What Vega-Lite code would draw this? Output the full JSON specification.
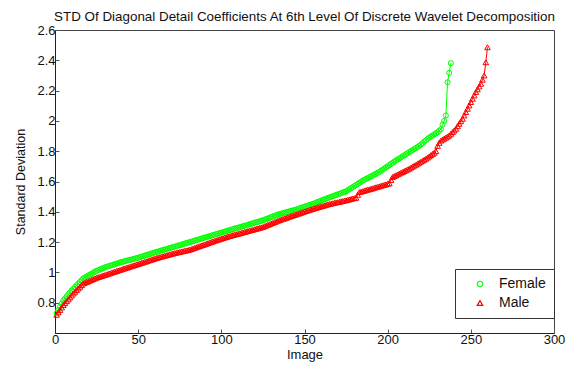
{
  "$schema": "https://vega.github.io/schema/vega-lite/v6.json",
  "width": 499,
  "height": 303,
  "autosize": {"type": "none"},
  "padding": {"left": 55, "top": 30, "right": 20, "bottom": 35},
  "background": "white",
  "title": {"text": "STD Of Diagonal Detail Coefficients At 6th Level Of Discrete Wavelet Decomposition", "font": "Liberation Sans", "fontSize": 13.4, "fontWeight": "normal", "color": "#111", "anchor": "middle", "offset": 1},
  "config": {
    "view": {"stroke": "#444", "strokeWidth": 1},
    "axis": {"labelFont": "Liberation Sans", "titleFont": "Liberation Sans", "labelColor": "#111", "titleColor": "#111", "labelFontSize": 13, "titleFontSize": 13, "titleFontWeight": "normal", "grid": false, "domainColor": "#222", "tickColor": "#555", "tickSize": -4, "labelPadding": 4},
    "legend": {"labelFont": "Liberation Sans", "labelFontSize": 14, "labelColor": "#111"}
  },
  "data": {"values": [
{"i":1,"Female":0.730,"Male":0.720},{"i":2,"Female":0.752,"Male":0.736},{"i":3,"Female":0.773,"Male":0.752},{"i":4,"Female":0.794,"Male":0.768},{"i":5,"Female":0.815,"Male":0.784},
{"i":6,"Female":0.828,"Male":0.797},{"i":7,"Female":0.841,"Male":0.810},{"i":8,"Female":0.854,"Male":0.822},{"i":9,"Female":0.867,"Male":0.835},{"i":10,"Female":0.880,"Male":0.848},
{"i":11,"Female":0.891,"Male":0.861},{"i":12,"Female":0.903,"Male":0.872},{"i":13,"Female":0.914,"Male":0.883},{"i":14,"Female":0.926,"Male":0.894},{"i":15,"Female":0.937,"Male":0.905},
{"i":16,"Female":0.949,"Male":0.916},{"i":17,"Female":0.960,"Male":0.927},{"i":18,"Female":0.966,"Male":0.932},{"i":19,"Female":0.973,"Male":0.937},{"i":20,"Female":0.979,"Male":0.941},
{"i":21,"Female":0.985,"Male":0.946},{"i":22,"Female":0.991,"Male":0.951},{"i":23,"Female":0.998,"Male":0.956},{"i":24,"Female":1.004,"Male":0.960},{"i":25,"Female":1.010,"Male":0.965},
{"i":26,"Female":1.015,"Male":0.969},{"i":27,"Female":1.019,"Male":0.972},{"i":28,"Female":1.024,"Male":0.976},{"i":29,"Female":1.028,"Male":0.980},{"i":30,"Female":1.033,"Male":0.983},
{"i":31,"Female":1.037,"Male":0.987},{"i":32,"Female":1.040,"Male":0.991},{"i":33,"Female":1.044,"Male":0.994},{"i":34,"Female":1.047,"Male":0.998},{"i":35,"Female":1.051,"Male":1.002},
{"i":36,"Female":1.054,"Male":1.005},{"i":37,"Female":1.058,"Male":1.009},{"i":38,"Female":1.061,"Male":1.013},{"i":39,"Female":1.065,"Male":1.016},{"i":40,"Female":1.068,"Male":1.020},
{"i":41,"Female":1.071,"Male":1.024},{"i":42,"Female":1.074,"Male":1.027},{"i":43,"Female":1.077,"Male":1.031},{"i":44,"Female":1.080,"Male":1.034},{"i":45,"Female":1.083,"Male":1.038},
{"i":46,"Female":1.085,"Male":1.041},{"i":47,"Female":1.088,"Male":1.045},{"i":48,"Female":1.091,"Male":1.048},{"i":49,"Female":1.094,"Male":1.052},{"i":50,"Female":1.097,"Male":1.055},
{"i":51,"Female":1.100,"Male":1.059},{"i":52,"Female":1.104,"Male":1.063},{"i":53,"Female":1.107,"Male":1.066},{"i":54,"Female":1.111,"Male":1.070},{"i":55,"Female":1.114,"Male":1.073},
{"i":56,"Female":1.118,"Male":1.077},{"i":57,"Female":1.121,"Male":1.081},{"i":58,"Female":1.125,"Male":1.084},{"i":59,"Female":1.128,"Male":1.088},{"i":60,"Female":1.132,"Male":1.091},
{"i":61,"Female":1.135,"Male":1.095},{"i":62,"Female":1.138,"Male":1.098},{"i":63,"Female":1.141,"Male":1.101},{"i":64,"Female":1.145,"Male":1.104},{"i":65,"Female":1.148,"Male":1.107},
{"i":66,"Female":1.151,"Male":1.110},{"i":67,"Female":1.154,"Male":1.113},{"i":68,"Female":1.157,"Male":1.116},{"i":69,"Female":1.161,"Male":1.119},{"i":70,"Female":1.164,"Male":1.122},
{"i":71,"Female":1.167,"Male":1.125},{"i":72,"Female":1.170,"Male":1.128},{"i":73,"Female":1.173,"Male":1.130},{"i":74,"Female":1.177,"Male":1.133},{"i":75,"Female":1.180,"Male":1.135},
{"i":76,"Female":1.183,"Male":1.138},{"i":77,"Female":1.187,"Male":1.140},{"i":78,"Female":1.190,"Male":1.143},{"i":79,"Female":1.193,"Male":1.145},{"i":80,"Female":1.197,"Male":1.148},
{"i":81,"Female":1.200,"Male":1.150},{"i":82,"Female":1.203,"Male":1.154},{"i":83,"Female":1.206,"Male":1.158},{"i":84,"Female":1.210,"Male":1.162},{"i":85,"Female":1.213,"Male":1.166},
{"i":86,"Female":1.216,"Male":1.170},{"i":87,"Female":1.220,"Male":1.174},{"i":88,"Female":1.223,"Male":1.178},{"i":89,"Female":1.226,"Male":1.181},{"i":90,"Female":1.230,"Male":1.185},
{"i":91,"Female":1.233,"Male":1.189},{"i":92,"Female":1.236,"Male":1.193},{"i":93,"Female":1.239,"Male":1.197},{"i":94,"Female":1.243,"Male":1.201},{"i":95,"Female":1.246,"Male":1.205},
{"i":96,"Female":1.249,"Male":1.209},{"i":97,"Female":1.253,"Male":1.212},{"i":98,"Female":1.256,"Male":1.216},{"i":99,"Female":1.259,"Male":1.219},{"i":100,"Female":1.263,"Male":1.223},
{"i":101,"Female":1.266,"Male":1.226},{"i":102,"Female":1.269,"Male":1.230},{"i":103,"Female":1.272,"Male":1.233},{"i":104,"Female":1.276,"Male":1.237},{"i":105,"Female":1.279,"Male":1.240},
{"i":106,"Female":1.282,"Male":1.243},{"i":107,"Female":1.285,"Male":1.246},{"i":108,"Female":1.289,"Male":1.249},{"i":109,"Female":1.292,"Male":1.252},{"i":110,"Female":1.295,"Male":1.255},
{"i":111,"Female":1.298,"Male":1.258},{"i":112,"Female":1.301,"Male":1.261},{"i":113,"Female":1.305,"Male":1.264},{"i":114,"Female":1.308,"Male":1.267},{"i":115,"Female":1.311,"Male":1.270},
{"i":116,"Female":1.314,"Male":1.273},{"i":117,"Female":1.318,"Male":1.276},{"i":118,"Female":1.321,"Male":1.279},{"i":119,"Female":1.324,"Male":1.282},{"i":120,"Female":1.328,"Male":1.285},
{"i":121,"Female":1.331,"Male":1.288},{"i":122,"Female":1.334,"Male":1.291},{"i":123,"Female":1.337,"Male":1.294},{"i":124,"Female":1.341,"Male":1.297},{"i":125,"Female":1.344,"Male":1.300},
{"i":126,"Female":1.348,"Male":1.305},{"i":127,"Female":1.352,"Male":1.309},{"i":128,"Female":1.356,"Male":1.314},{"i":129,"Female":1.360,"Male":1.318},{"i":130,"Female":1.365,"Male":1.323},
{"i":131,"Female":1.369,"Male":1.327},{"i":132,"Female":1.373,"Male":1.332},{"i":133,"Female":1.377,"Male":1.336},{"i":134,"Female":1.381,"Male":1.341},{"i":135,"Female":1.385,"Male":1.345},
{"i":136,"Female":1.388,"Male":1.349},{"i":137,"Female":1.391,"Male":1.353},{"i":138,"Female":1.394,"Male":1.356},{"i":139,"Female":1.397,"Male":1.360},{"i":140,"Female":1.400,"Male":1.364},
{"i":141,"Female":1.403,"Male":1.368},{"i":142,"Female":1.406,"Male":1.372},{"i":143,"Female":1.409,"Male":1.375},{"i":144,"Female":1.412,"Male":1.379},{"i":145,"Female":1.415,"Male":1.383},
{"i":146,"Female":1.419,"Male":1.387},{"i":147,"Female":1.422,"Male":1.390},{"i":148,"Female":1.426,"Male":1.394},{"i":149,"Female":1.430,"Male":1.398},{"i":150,"Female":1.434,"Male":1.402},
{"i":151,"Female":1.437,"Male":1.405},{"i":152,"Female":1.441,"Male":1.409},{"i":153,"Female":1.445,"Male":1.413},{"i":154,"Female":1.448,"Male":1.416},{"i":155,"Female":1.452,"Male":1.420},
{"i":156,"Female":1.456,"Male":1.423},{"i":157,"Female":1.461,"Male":1.426},{"i":158,"Female":1.465,"Male":1.430},{"i":159,"Female":1.469,"Male":1.433},{"i":160,"Female":1.474,"Male":1.436},
{"i":161,"Female":1.478,"Male":1.439},{"i":162,"Female":1.483,"Male":1.442},{"i":163,"Female":1.487,"Male":1.446},{"i":164,"Female":1.491,"Male":1.449},{"i":165,"Female":1.495,"Male":1.452},
{"i":166,"Female":1.499,"Male":1.454},{"i":167,"Female":1.503,"Male":1.457},{"i":168,"Female":1.507,"Male":1.459},{"i":169,"Female":1.511,"Male":1.462},{"i":170,"Female":1.515,"Male":1.464},
{"i":171,"Female":1.519,"Male":1.466},{"i":172,"Female":1.523,"Male":1.469},{"i":173,"Female":1.527,"Male":1.471},{"i":174,"Female":1.531,"Male":1.474},{"i":175,"Female":1.535,"Male":1.476},
{"i":176,"Female":1.542,"Male":1.479},{"i":177,"Female":1.549,"Male":1.482},{"i":178,"Female":1.556,"Male":1.485},{"i":179,"Female":1.563,"Male":1.488},{"i":180,"Female":1.570,"Male":1.490},
{"i":181,"Female":1.577,"Male":1.493},{"i":182,"Female":1.584,"Male":1.512},{"i":183,"Female":1.591,"Male":1.530},{"i":184,"Female":1.598,"Male":1.533},{"i":185,"Female":1.605,"Male":1.536},
{"i":186,"Female":1.611,"Male":1.539},{"i":187,"Female":1.617,"Male":1.543},{"i":188,"Female":1.622,"Male":1.546},{"i":189,"Female":1.628,"Male":1.549},{"i":190,"Female":1.634,"Male":1.552},
{"i":191,"Female":1.640,"Male":1.555},{"i":192,"Female":1.646,"Male":1.559},{"i":193,"Female":1.651,"Male":1.562},{"i":194,"Female":1.657,"Male":1.565},{"i":195,"Female":1.663,"Male":1.568},
{"i":196,"Female":1.671,"Male":1.572},{"i":197,"Female":1.678,"Male":1.575},{"i":198,"Female":1.686,"Male":1.578},{"i":199,"Female":1.693,"Male":1.581},{"i":200,"Female":1.701,"Male":1.585},
{"i":201,"Female":1.708,"Male":1.588},{"i":202,"Female":1.716,"Male":1.610},{"i":203,"Female":1.723,"Male":1.630},{"i":204,"Female":1.731,"Male":1.636},{"i":205,"Female":1.738,"Male":1.641},
{"i":206,"Female":1.745,"Male":1.647},{"i":207,"Female":1.752,"Male":1.652},{"i":208,"Female":1.759,"Male":1.658},{"i":209,"Female":1.766,"Male":1.663},{"i":210,"Female":1.773,"Male":1.669},
{"i":211,"Female":1.780,"Male":1.674},{"i":212,"Female":1.787,"Male":1.680},{"i":213,"Female":1.794,"Male":1.685},{"i":214,"Female":1.801,"Male":1.692},{"i":215,"Female":1.808,"Male":1.698},
{"i":216,"Female":1.814,"Male":1.705},{"i":217,"Female":1.821,"Male":1.711},{"i":218,"Female":1.828,"Male":1.718},{"i":219,"Female":1.835,"Male":1.724},{"i":220,"Female":1.844,"Male":1.731},
{"i":221,"Female":1.853,"Male":1.737},{"i":222,"Female":1.863,"Male":1.744},{"i":223,"Female":1.872,"Male":1.750},{"i":224,"Female":1.881,"Male":1.758},{"i":225,"Female":1.890,"Male":1.766},
{"i":226,"Female":1.897,"Male":1.774},{"i":227,"Female":1.904,"Male":1.782},{"i":228,"Female":1.911,"Male":1.790},{"i":229,"Female":1.918,"Male":1.800},{"i":230,"Female":1.925,"Male":1.835},
{"i":231,"Female":1.935,"Male":1.855},{"i":232,"Female":1.945,"Male":1.870},{"i":233,"Female":1.975,"Male":1.877},{"i":234,"Female":2.000,"Male":1.884},{"i":235,"Female":2.036,"Male":1.890},
{"i":236,"Female":2.255,"Male":1.897},{"i":237,"Female":2.317,"Male":1.904},{"i":238,"Female":2.381,"Male":1.915},{"i":239,"Male":1.926},{"i":240,"Male":1.937},
{"i":241,"Male":1.948},{"i":242,"Male":1.965},{"i":243,"Male":1.981},{"i":244,"Male":1.998},{"i":245,"Male":2.014},
{"i":246,"Male":2.036},{"i":247,"Male":2.058},{"i":248,"Male":2.080},{"i":249,"Male":2.102},{"i":250,"Male":2.124},
{"i":251,"Male":2.146},{"i":252,"Male":2.168},{"i":253,"Male":2.190},{"i":254,"Male":2.208},{"i":255,"Male":2.227},
{"i":256,"Male":2.245},{"i":257,"Male":2.272},{"i":258,"Male":2.300},{"i":259,"Male":2.387},{"i":260,"Male":2.486}
  ]},
  "transform": [
    {"fold": ["Female", "Male"], "as": ["sex", "sd"]},
    {"filter": "isValid(datum.sd)"}
  ],
  "encoding": {
    "x": {"field": "i", "type": "quantitative", "scale": {"domain": [0, 300], "nice": false, "zero": false}, "axis": {"orient": "bottom", "values": [0, 50, 100, 150, 200, 250, 300], "title": "Image", "titlePadding": 2, "labelFlush": false}},
    "y": {"field": "sd", "type": "quantitative", "scale": {"domain": [0.6, 2.6], "nice": false, "zero": false}, "axis": {"orient": "left", "values": [0.8, 1, 1.2, 1.4, 1.6, 1.8, 2, 2.2, 2.4, 2.6], "format": ".1~f", "title": "Standard Deviation", "titlePadding": 9, "titleFontSize": 12.5, "labelFlush": false}},
    "color": {"field": "sex", "type": "nominal", "scale": {"domain": ["Female", "Male"], "range": ["#00ff00", "#ff0000"]}, "legend": {"title": null, "orient": "none", "legendX": 400, "legendY": 239, "fillColor": "white", "strokeColor": "#333", "padding": 8, "rowPadding": 5, "symbolSize": 30, "symbolStrokeWidth": 1.2, "symbolFillColor": "white", "symbolOffset": 10, "labelOffset": 12}}
  },
  "layer": [
    {
      "transform": [{"filter": "datum.sex == 'Female'"}],
      "mark": {"type": "line", "strokeWidth": 1}
    },
    {
      "transform": [{"filter": "datum.sex == 'Female'"}],
      "mark": {"type": "point", "filled": false, "size": 26, "strokeWidth": 1, "opacity": 1},
      "encoding": {
        "shape": {"field": "sex", "type": "nominal", "scale": {"domain": ["Female", "Male"], "range": ["circle", "triangle-up"]}, "legend": {"title": null, "orient": "none", "legendX": 400, "legendY": 239, "fillColor": "white", "strokeColor": "#333", "padding": 8, "rowPadding": 5, "symbolSize": 30, "symbolStrokeWidth": 1.2, "symbolFillColor": "white", "symbolOffset": 10, "labelOffset": 12}}
      }
    },
    {
      "transform": [{"filter": "datum.sex == 'Male'"}],
      "mark": {"type": "line", "strokeWidth": 1}
    },
    {
      "transform": [{"filter": "datum.sex == 'Male'"}],
      "mark": {"type": "point", "filled": false, "size": 32, "strokeWidth": 1, "opacity": 1},
      "encoding": {
        "shape": {"field": "sex", "type": "nominal"}
      }
    }
  ]
}
